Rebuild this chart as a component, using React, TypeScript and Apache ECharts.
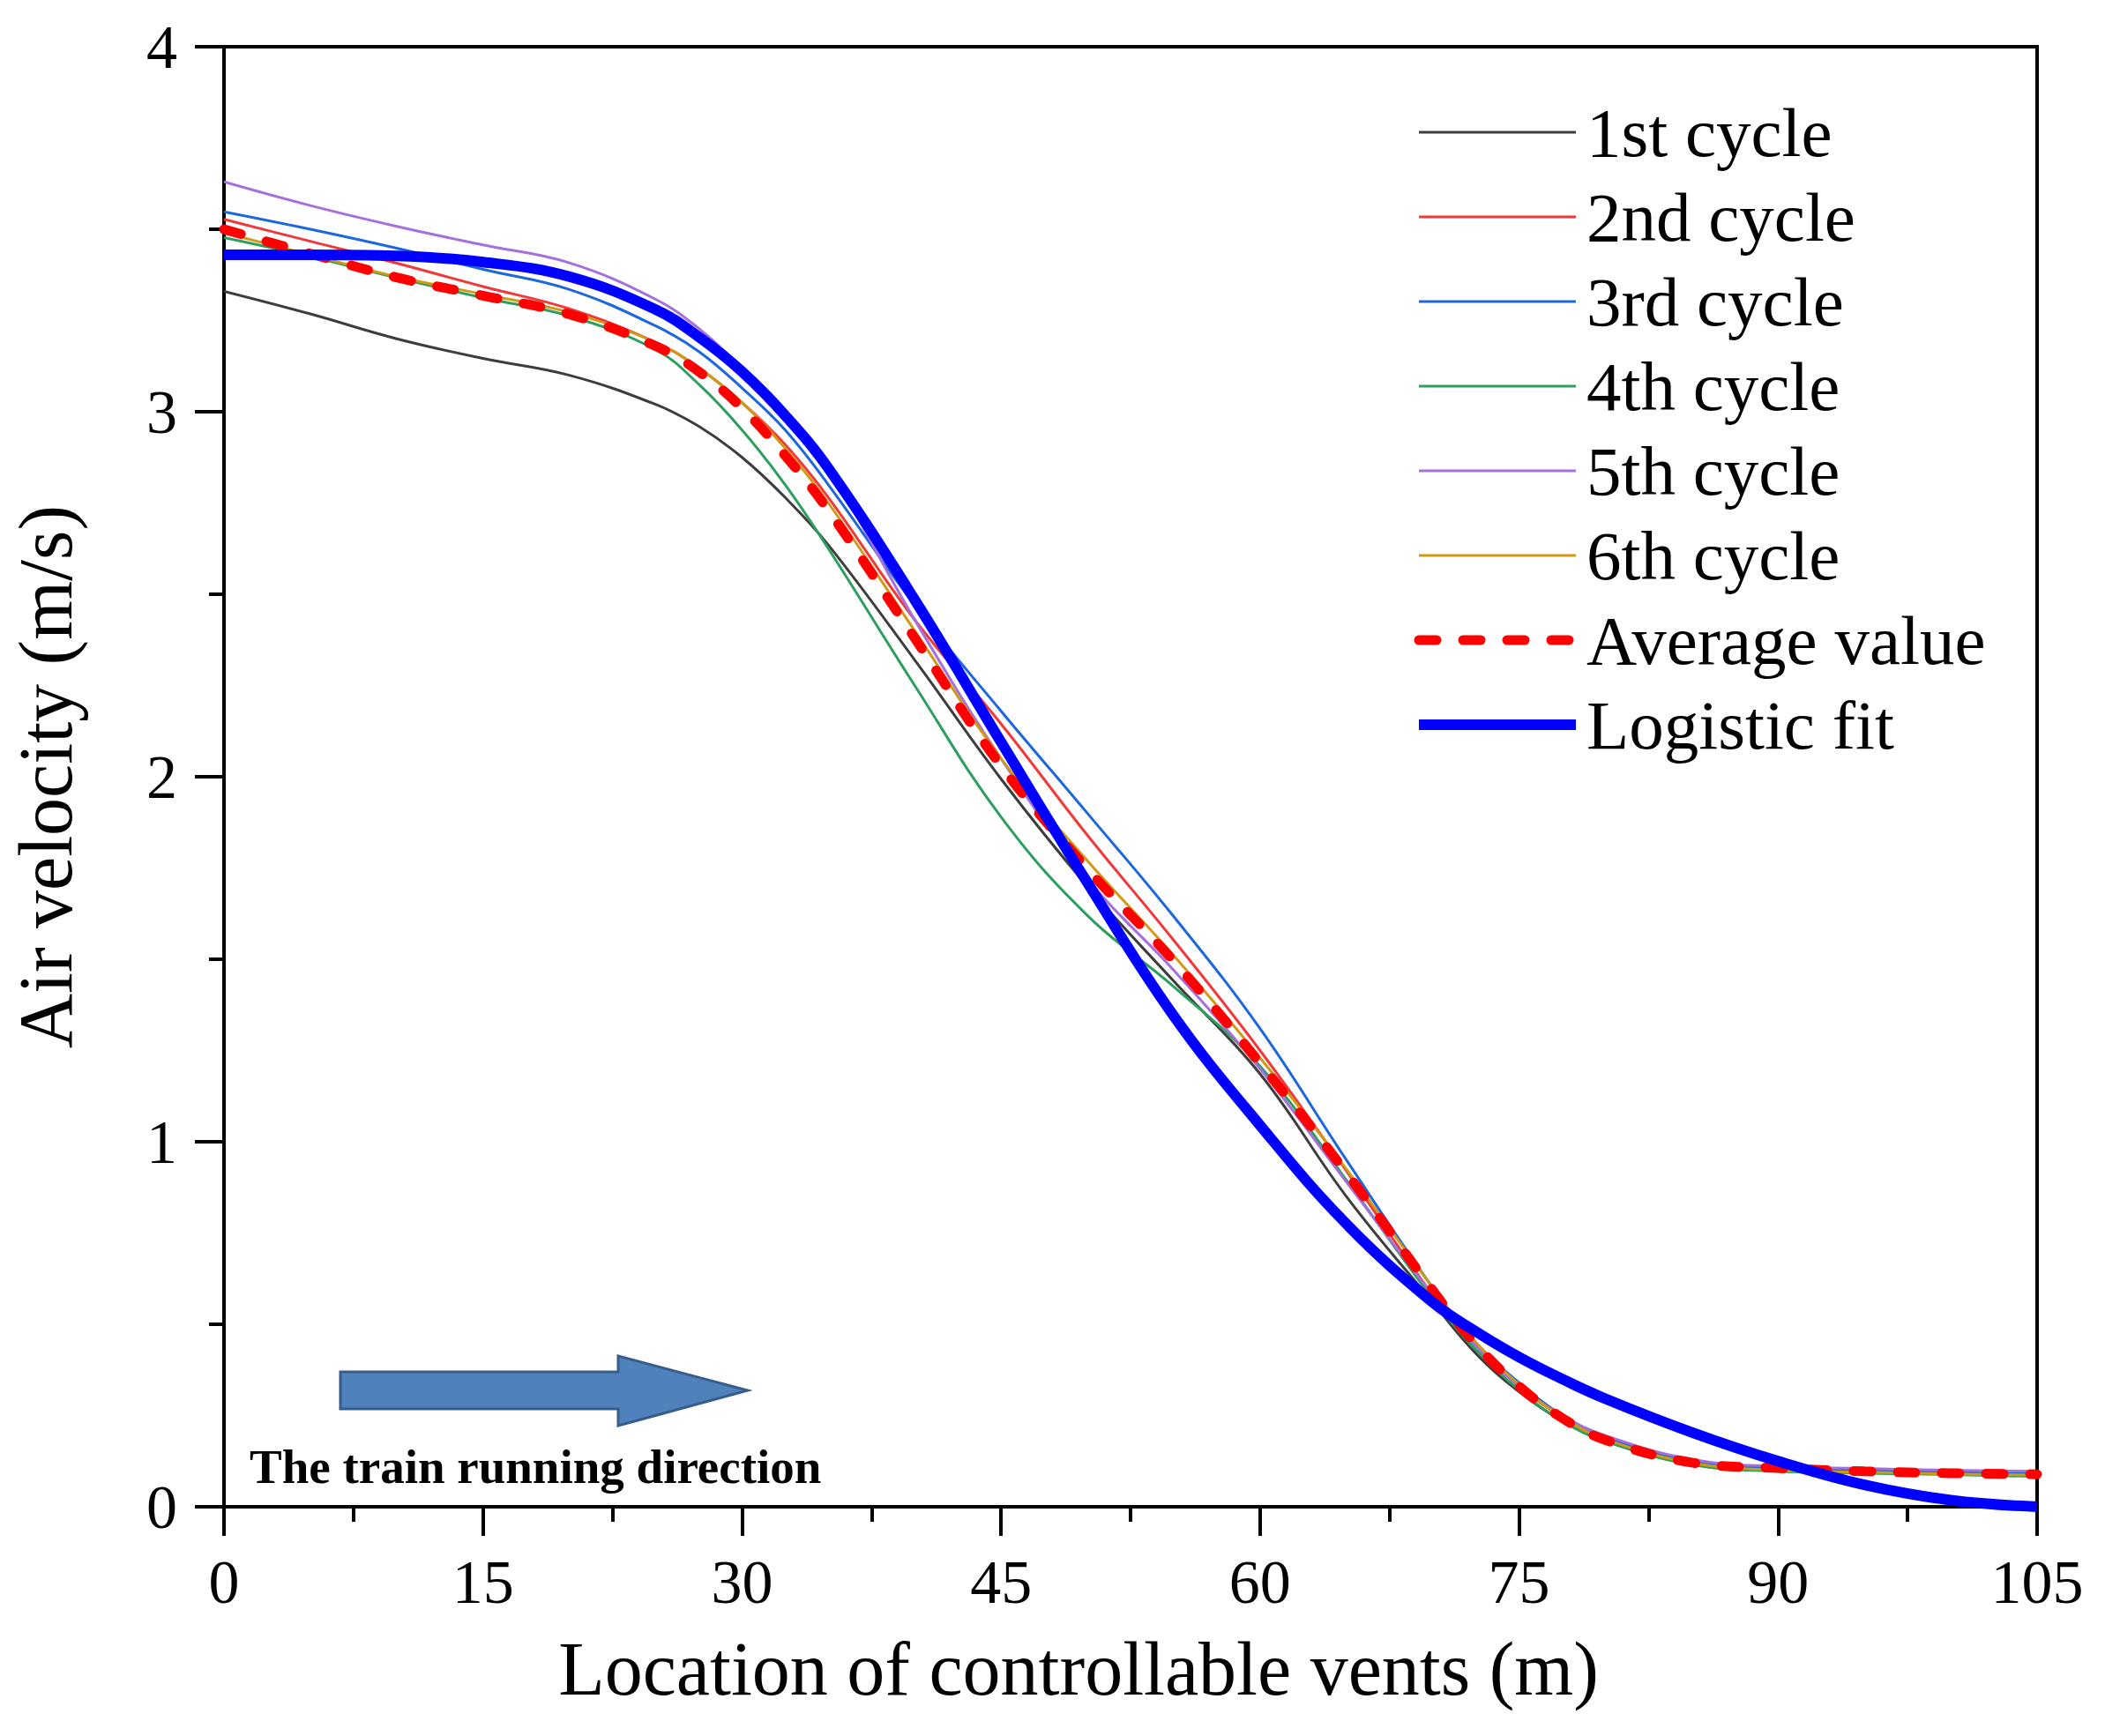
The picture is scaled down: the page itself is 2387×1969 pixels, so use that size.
import React, { useEffect, useRef } from "react";
import * as echarts from "echarts";

const FONT = '"Liberation Serif", "Times New Roman", serif';

// Location of controllable vents (m)
const xPositions = [0, 5, 10, 15, 20, 25, 27.5, 30, 32.5, 35, 40, 45, 50, 55, 60, 65, 70, 72.5, 75, 77.5, 80, 85, 90, 95, 100, 105];

// Air velocity (m/s)
const cycle1 = [3.33, 3.268, 3.2, 3.146, 3.1, 3.02, 2.96, 2.875, 2.765, 2.635, 2.32, 1.994, 1.7, 1.44, 1.186, 0.85, 0.56, 0.42, 0.315, 0.235, 0.18, 0.118, 0.1, 0.095, 0.09, 0.085];
const cycle2 = [3.527, 3.467, 3.407, 3.343, 3.282, 3.19, 3.12, 3.025, 2.91, 2.765, 2.43, 2.145, 1.84, 1.552, 1.25, 0.92, 0.58, 0.44, 0.33, 0.245, 0.185, 0.12, 0.1, 0.095, 0.09, 0.085];
const cycle3 = [3.548, 3.5, 3.448, 3.39, 3.335, 3.235, 3.165, 3.065, 2.95, 2.8, 2.47, 2.18, 1.9, 1.617, 1.31, 0.95, 0.6, 0.45, 0.34, 0.25, 0.19, 0.125, 0.105, 0.1, 0.095, 0.09];
const cycle4 = [3.477, 3.425, 3.367, 3.312, 3.262, 3.17, 3.075, 2.95, 2.8, 2.625, 2.25, 1.89, 1.62, 1.425, 1.207, 0.895, 0.57, 0.43, 0.32, 0.235, 0.18, 0.115, 0.097, 0.092, 0.088, 0.083];
const cycle5 = [3.63, 3.565, 3.508, 3.457, 3.408, 3.308, 3.228, 3.12, 2.995, 2.845, 2.43, 2.05, 1.72, 1.47, 1.2, 0.89, 0.58, 0.44, 0.33, 0.25, 0.195, 0.13, 0.11, 0.105, 0.1, 0.097];
const cycle6 = [3.49, 3.43, 3.37, 3.322, 3.272, 3.19, 3.12, 3.025, 2.9, 2.75, 2.4, 2.05, 1.77, 1.51, 1.23, 0.925, 0.6, 0.45, 0.335, 0.245, 0.185, 0.12, 0.1, 0.095, 0.09, 0.087];
const averageValue = [3.5, 3.433, 3.368, 3.318, 3.267, 3.18, 3.11, 3.01, 2.88, 2.73, 2.38, 2.03, 1.748, 1.495, 1.215, 0.915, 0.593, 0.445, 0.33, 0.243, 0.183, 0.121, 0.106, 0.097, 0.092, 0.089];
const logisticFit = [3.43, 3.43, 3.427, 3.41, 3.37, 3.28, 3.205, 3.11, 2.99, 2.845, 2.485, 2.095, 1.71, 1.345, 1.045, 0.775, 0.56, 0.48, 0.41, 0.35, 0.296, 0.204, 0.125, 0.06, 0.018, 0.0];

const seriesNames = ["1st cycle", "2nd cycle", "3rd cycle", "4th cycle", "5th cycle", "6th cycle", "Average value", "Logistic fit"];
const seriesColors = ["#3d3d3d", "#f0393a", "#1c67dc", "#2e9e5e", "#a56fdc", "#cf9a14", "#ff0000", "#0000ff"];
const seriesValues = [cycle1, cycle2, cycle3, cycle4, cycle5, cycle6, averageValue, logisticFit];

const xTitle = "Location of controllable vents (m)";
const yTitle = "Air velocity (m/s)";
const noteText = "The train running direction";

function pairs(ys: number[]) {
  return xPositions.map((x, i) => [x, ys[i]]);
}

const AVG_DASH = [20, 30];

export default function App() {
  const ref = useRef<HTMLDivElement>(null);

  useEffect(() => {
    document.body.style.margin = "0";
    const chart = echarts.init(ref.current!, null, { renderer: "svg" });

    const widthOf = (i: number) => (i === 7 ? 12 : i === 6 ? 11 : 3);

    const series = seriesNames.map((name, i) => {
      const isAvg = i === 6;
      const isFit = i === 7;
      return {
        name,
        type: "line",
        data: pairs(seriesValues[i]),
        smooth: 0.4,
        symbol: "none",
        showSymbol: false,
        clip: true,
        z: isFit ? 4 : isAvg ? 3 : 2,
        lineStyle: {
          color: seriesColors[i],
          width: widthOf(i),
          type: isAvg ? AVG_DASH : "solid",
          cap: isAvg ? "round" : "butt",
        },
        itemStyle: { color: seriesColors[i] },
      };
    });

    chart.setOption({
      animation: false,
      backgroundColor: "#ffffff",
      grid: {
        left: 254,
        right: 77,
        top: 53,
        bottom: 260,
        show: true,
        borderColor: "#000",
        borderWidth: 4,
        backgroundColor: "transparent",
      },
      legend: {
        orient: "vertical",
        left: 1603,
        top: 110,
        padding: 0,
        itemWidth: 178,
        itemHeight: 20,
        itemGap: 16,
        itemStyle: { opacity: 0 },
        data: seriesNames.map((name, i) => ({
          name,
          itemStyle: { opacity: 0 },
          lineStyle: {
            width: widthOf(i),
            color: seriesColors[i],
            type: i === 6 ? AVG_DASH : "solid",
            cap: i === 6 ? "round" : "butt",
            opacity: 1,
          },
        })),
        textStyle: {
          fontFamily: FONT,
          fontSize: 79,
          color: "#000",
          lineHeight: 80,
          padding: [0, 0, 0, 7],
        },
      },
      xAxis: {
        type: "value",
        min: 0,
        max: 105,
        interval: 15,
        axisLine: { show: true, lineStyle: { color: "#000", width: 4 } },
        axisTick: { show: true, inside: false, length: 33, lineStyle: { color: "#000", width: 4 } },
        minorTick: { show: true, splitNumber: 2, length: 17, lineStyle: { color: "#000", width: 4 } },
        splitLine: { show: false },
        minorSplitLine: { show: false },
        axisLabel: { fontFamily: FONT, fontSize: 70, color: "#000", margin: 50 },
      },
      yAxis: {
        type: "value",
        min: 0,
        max: 4,
        interval: 1,
        axisLine: { show: true, lineStyle: { color: "#000", width: 4 } },
        axisTick: { show: true, inside: false, length: 33, lineStyle: { color: "#000", width: 4 } },
        minorTick: { show: true, splitNumber: 2, length: 17, lineStyle: { color: "#000", width: 4 } },
        splitLine: { show: false },
        minorSplitLine: { show: false },
        axisLabel: { fontFamily: FONT, fontSize: 70, color: "#000", margin: 53 },
      },
      graphic: [
        {
          type: "text",
          x: 1223,
          y: 1893,
          style: {
            text: xTitle,
            font: `86px ${FONT}`,
            fill: "#000",
            align: "center",
            verticalAlign: "middle",
          },
        },
        {
          type: "text",
          x: 52,
          y: 881,
          rotation: Math.PI / 2,
          style: {
            text: yTitle,
            font: `86px ${FONT}`,
            fill: "#000",
            align: "center",
            verticalAlign: "middle",
          },
        },
        {
          type: "polygon",
          shape: {
            points: [
              [386, 1556],
              [701, 1556],
              [701, 1538],
              [848, 1577],
              [701, 1617],
              [701, 1598],
              [386, 1598],
            ],
          },
          style: { fill: "#4f81bd", stroke: "#385d8a", lineWidth: 3 },
          z: 10,
        },
        {
          type: "text",
          x: 283,
          y: 1663,
          style: {
            text: noteText,
            font: `bold 55px ${FONT}`,
            fill: "#000",
            align: "left",
            verticalAlign: "middle",
          },
          z: 10,
        },
      ],
      series,
    });

    return () => chart.dispose();
  }, []);

  return <div ref={ref} style={{ width: 2387, height: 1969, background: "#fff" }} />;
}
